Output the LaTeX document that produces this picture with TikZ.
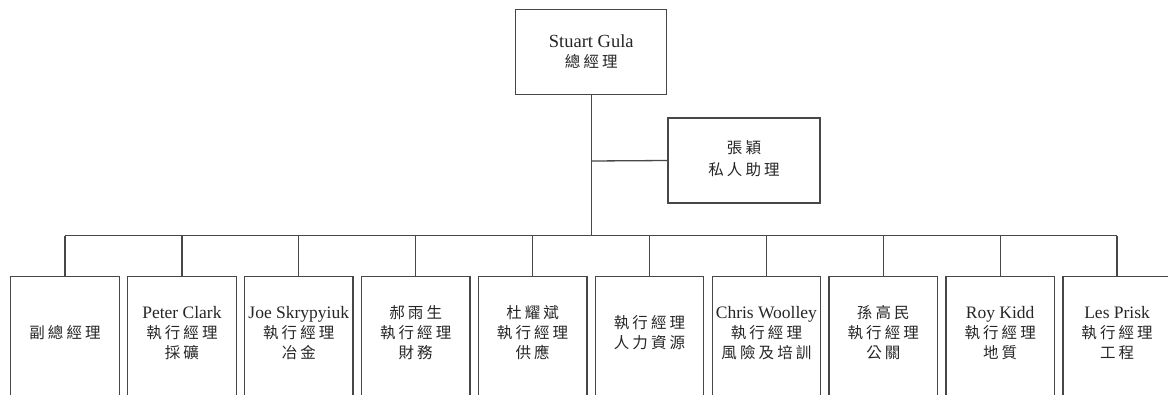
\documentclass[tikz,border=0pt]{standalone}
\usepackage{fontspec}
\setmainfont{Liberation Serif}
\newfontfamily\cjk[LetterSpace=20]{Noto Sans CJK TC}
\newcommand{\zh}[1]{{\cjk\fontsize{15.5}{20}\selectfont #1}}
\begin{document}
\begin{tikzpicture}[x=1pt,y=-1pt,
  box/.style={draw=black!72,line width=1.3pt,inner sep=0pt},
  txt/.style={align=center,text=black!85,font=\fontsize{17.5}{20}\selectfont,inner sep=0pt},
  conn/.style={draw=black!72,line width=1.3pt}]
\useasboundingbox (0,0) rectangle (1168,394);
\clip (0,0) rectangle (1168,394);
% top
\node[box,minimum width=151pt,minimum height=85pt] (ceo) at (591.3,51.7) {};
\node[txt,font=\fontsize{18.5}{20}\selectfont] (ceot) at (591.3,51.7) {Stuart Gula\\\zh{總經理}};
% assistant
\node[box,minimum width=152pt,minimum height=85pt] (asst) at (744,160.5) {};
\node[txt,font=\fontsize{17.5}{22}\selectfont] (asstt) at (744,159) {\zh{張穎}\\\zh{私人助理}};
\coordinate (j) at (591.3,161);
\coordinate (bus) at (591.3,235.7);
\draw[conn] (ceo.south) -- (bus);
\draw[conn] (j) -- (asst.west);
% bottom boxes
\foreach \i/\t in {
 0/{\zh{副總經理}},
 1/{Peter Clark\\\zh{執行經理}\\\zh{採礦}},
 2/{Joe Skrypyiuk\\\zh{執行經理}\\\zh{冶金}},
 3/{\zh{郝雨生}\\\zh{執行經理}\\\zh{財務}},
 4/{\zh{杜耀斌}\\\zh{執行經理}\\\zh{供應}},
 5/{\zh{執行經理}\\\zh{人力資源}},
 6/{Chris Woolley\\\zh{執行經理}\\\zh{風險及培訓}},
 7/{\zh{孫高民}\\\zh{執行經理}\\\zh{公關}},
 8/{Roy Kidd\\\zh{執行經理}\\\zh{地質}},
 9/{Les Prisk\\\zh{執行經理}\\\zh{工程}}} {
  \pgfmathsetmacro{\cx}{65+116.9*\i}
  \node[box,minimum width=108.5pt,minimum height=160pt,anchor=north] (b\i) at (\cx,275.7) {};
  \node[txt] (t\i) at (\cx,333) {\t};
  \draw[conn] (b\i.north) -- (b\i.north |- bus);
}
\draw[conn] (b0.north |- bus) -- (b9.north |- bus);
\end{tikzpicture}
\end{document}
